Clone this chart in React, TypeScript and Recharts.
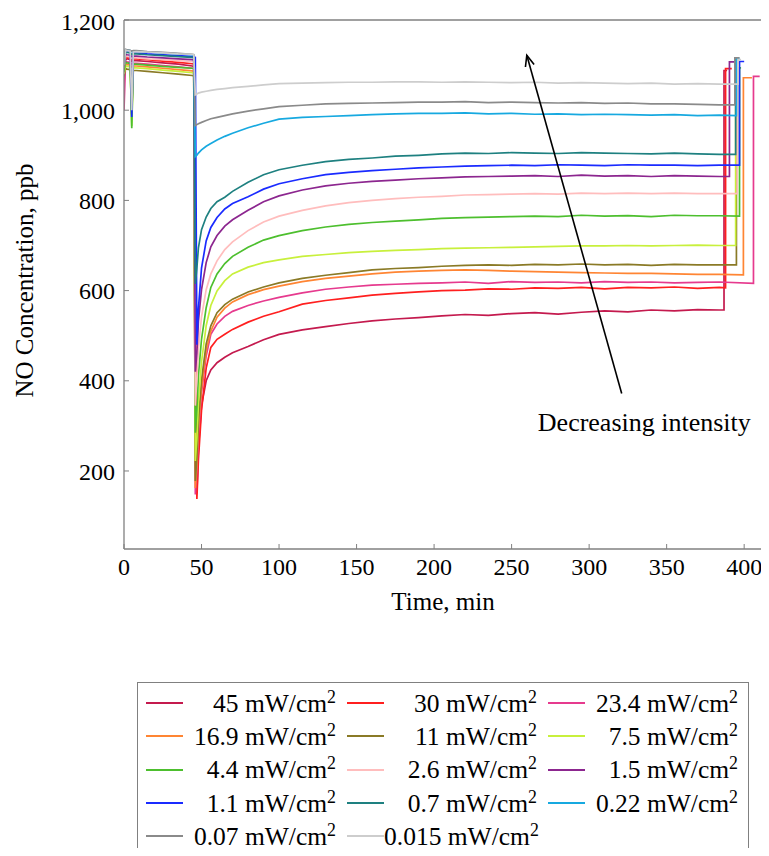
import React from 'react';
import { LineChart, Line, XAxis, YAxis, ReferenceLine, ReferenceDot, Legend } from 'recharts';

const TIME = [0, 1, 2, 4, 5, 6, 8, 15, 25, 35, 44, 45, 46, 47, 48, 50, 53, 56, 60, 65, 70, 80, 90, 100, 115, 130, 145, 160, 175, 190, 205, 220, 235, 250, 265, 280, 295, 310, 325, 340, 355, 370, 384];

const NO_45 = [1060, 1112, 1114, 1112, 1108, 1110, 1110, 1108, 1105, 1102, 1098, 1097, 420, 150, 250, 345, 400, 424, 440, 452, 462, 476, 491, 503, 513, 520, 527, 533, 537, 540, 544, 547, 545, 549, 551, 548, 552, 555, 553, 557, 555, 558, 557];
const NO_30 = [1090, 1118, 1117, 1115, 1112, 1114, 1114, 1112, 1109, 1106, 1103, 1102, 560, 138, 225, 335, 428, 474, 492, 503, 514, 530, 543, 553, 570, 578, 584, 590, 594, 597, 600, 601, 604, 603, 606, 605, 607, 604, 607, 606, 608, 605, 607];
const NO_23_4 = [1000, 1108, 1107, 1106, 1102, 1104, 1104, 1102, 1099, 1096, 1093, 1092, 148, 200, 280, 375, 455, 503, 526, 543, 554, 567, 577, 585, 595, 603, 608, 612, 614, 616, 617, 619, 616, 620, 618, 619, 617, 620, 618, 619, 617, 618, 619];
const NO_16_9 = [1085, 1102, 1101, 1100, 1096, 1098, 1098, 1096, 1093, 1090, 1087, 1086, 162, 215, 295, 385, 468, 510, 541, 561, 575, 591, 602, 610, 620, 627, 632, 637, 641, 643, 645, 646, 645, 643, 642, 641, 640, 639, 638, 638, 637, 636, 636];
const NO_11 = [1075, 1092, 1091, 1090, 990, 1088, 1088, 1086, 1083, 1080, 1077, 1076, 178, 232, 312, 402, 482, 522, 551, 569, 581, 597, 608, 617, 627, 634, 640, 646, 649, 651, 654, 656, 657, 656, 658, 657, 659, 657, 658, 656, 658, 657, 657];
const NO_7_5 = [1080, 1098, 1097, 1096, 965, 1094, 1094, 1092, 1089, 1086, 1083, 1082, 222, 272, 352, 442, 522, 567, 599, 622, 637, 652, 662, 668, 676, 680, 684, 687, 689, 691, 693, 694, 695, 696, 697, 698, 699, 699, 700, 699, 700, 701, 700];
const NO_4_4 = [1085, 1106, 1105, 1104, 960, 1102, 1102, 1100, 1097, 1095, 1093, 1092, 285, 335, 412, 492, 562, 607, 637, 660, 676, 696, 712, 722, 733, 741, 747, 751, 754, 757, 760, 762, 763, 764, 765, 764, 767, 765, 766, 764, 767, 766, 766];
const NO_2_6 = [1095, 1120, 1119, 1118, 1115, 1116, 1116, 1114, 1112, 1110, 1108, 1107, 345, 405, 472, 542, 602, 637, 666, 691, 708, 733, 752, 765, 778, 788, 795, 800, 804, 807, 809, 812, 813, 814, 815, 814, 816, 815, 816, 815, 816, 815, 815];
const NO_1_5 = [1100, 1124, 1123, 1122, 1119, 1120, 1120, 1118, 1116, 1114, 1112, 1111, 420, 462, 532, 602, 662, 697, 722, 743, 757, 778, 797, 810, 823, 832, 838, 842, 845, 848, 850, 852, 853, 854, 855, 853, 856, 854, 855, 853, 855, 854, 853];
const NO_1_1 = [1100, 1131, 1130, 1129, 985, 1127, 1127, 1125, 1123, 1121, 1119, 1118, 1117, 480, 560, 650, 710, 740, 762, 781, 793, 808, 825, 837, 848, 857, 862, 866, 869, 872, 874, 876, 877, 878, 877, 879, 878, 877, 879, 878, 878, 877, 878];
const NO_0_7 = [1100, 1129, 1128, 1127, 1124, 1125, 1125, 1123, 1121, 1119, 1117, 1116, 615, 650, 695, 735, 763, 782, 797, 807, 820, 840, 857, 868, 878, 886, 891, 894, 898, 900, 903, 905, 904, 906, 905, 904, 906, 905, 904, 903, 905, 903, 902];
const NO_0_22 = [1105, 1134, 1133, 1132, 1130, 1131, 1131, 1129, 1127, 1125, 1123, 1122, 897, 900, 905, 912, 920, 926, 934, 942, 949, 961, 971, 980, 984, 986, 988, 990, 992, 993, 993, 994, 992, 993, 991, 992, 990, 991, 990, 989, 990, 988, 989];
const NO_0_07 = [1095, 1135, 1134, 1133, 1131, 1132, 1132, 1130, 1128, 1126, 1124, 1123, 966, 968, 970, 973, 977, 981, 984, 988, 992, 998, 1003, 1008, 1011, 1014, 1015, 1016, 1017, 1018, 1018, 1019, 1017, 1018, 1017, 1016, 1017, 1015, 1016, 1014, 1014, 1013, 1012];
const NO_0_015 = [1100, 1133, 1132, 1131, 1000, 1129, 1130, 1129, 1127, 1125, 1124, 1123, 1034, 1036, 1038, 1040, 1042, 1044, 1046, 1048, 1050, 1053, 1056, 1059, 1060, 1061, 1062, 1062, 1063, 1063, 1062, 1063, 1062, 1061, 1062, 1060, 1061, 1060, 1059, 1060, 1058, 1059, 1058];

// end of each run: [time, value] points after the shared grid
const TAIL_45 = [[387, 557], [387, 1088], [389, 1088]];
const TAIL_30 = [[388, 606], [388, 1092], [392, 1092]];
const TAIL_23_4 = [[406, 616], [406, 1075], [410, 1075]];
const TAIL_16_9 = [[399.5, 635], [399.5, 1072], [405, 1072]];
const TAIL_11 = [[395, 657], [395, 1095], [396, 1095]];
const TAIL_7_5 = [[394.5, 700], [394.5, 1100], [396, 1100]];
const TAIL_4_4 = [[397, 765], [397, 1094], [398, 1094]];
const TAIL_2_6 = [[395.5, 815], [395.5, 1105], [397, 1105]];
const TAIL_1_5 = [[390.5, 853], [390.5, 1107], [394, 1107]];
const TAIL_1_1 = [[397, 878], [397, 1108], [400, 1108]];
const TAIL_0_7 = [[394.5, 902], [394.5, 1112], [396, 1112]];
const TAIL_0_22 = [[395, 988], [395, 1115], [397, 1115]];
const TAIL_0_07 = [[394, 1012], [394, 1116], [397, 1116]];
const TAIL_0_015 = [[396, 1058], [396, 1112], [398, 1112]];

const LABELS = ['45', '30', '23.4', '16.9', '11', '7.5', '4.4', '2.6', '1.5', '1.1', '0.7', '0.22', '0.07', '0.015'];
const COLORS = ['#C41A4E', '#FF1F1F', '#E63A8E', '#FF8533', '#8A7A26', '#C8F03C', '#4DBF2E', '#FFBDBD', '#8C268F', '#1A2BFF', '#1E8080', '#17A9E0', '#8A8A8A', '#CDCDCD'];
const VALUES = [NO_45, NO_30, NO_23_4, NO_16_9, NO_11, NO_7_5, NO_4_4, NO_2_6, NO_1_5, NO_1_1, NO_0_7, NO_0_22, NO_0_07, NO_0_015];
const TAILS = [TAIL_45, TAIL_30, TAIL_23_4, TAIL_16_9, TAIL_11, TAIL_7_5, TAIL_4_4, TAIL_2_6, TAIL_1_5, TAIL_1_1, TAIL_0_7, TAIL_0_22, TAIL_0_07, TAIL_0_015];

const X_TICKS = [0, 50, 100, 150, 200, 250, 300, 350, 400];
const Y_TICKS = [200, 400, 600, 800, 1000, 1200];
const X_DOMAIN = [0, 411.5];
const Y_DOMAIN = [27, 1200];

const ARROW = [{ x: 321, y: 372 }, { x: 259.8, y: 1122 }];
const NOTE = { x: 335.6, y: 308, text: 'Decreasing intensity' };

const FONT = '"Liberation Serif", "Times New Roman", serif';
const AXIS_GRAY = '#808080';

const series = LABELS.map((label, i) => ({
  label,
  color: COLORS[i],
  data: VALUES[i].map((v, j) => ({ t: TIME[j], v })).concat(TAILS[i].map(([t, v]) => ({ t, v }))),
}));

const renderLegend = () => (
  <div
    style={{
      boxSizing: 'border-box',
      width: 612,
      height: 185,
      border: `1px solid ${AXIS_GRAY}`,
      background: '#fff',
      padding: '3.5px 0 0 8px',
      fontFamily: FONT,
      fontSize: 25.5,
      color: '#000',
      display: 'grid',
      gridTemplateColumns: 'repeat(3, 201px)',
      gridAutoRows: '33.3px',
    }}
  >
    {series.map((s) => (
      <div key={s.label} style={{ display: 'flex', alignItems: 'center', height: 33.3 }}>
        <span style={{ display: 'inline-block', width: 37, height: 2, background: s.color, flex: 'none' }} />
        <span style={{ width: 153, textAlign: 'right', whiteSpace: 'nowrap', lineHeight: '33px' }}>
          {s.label} mW/cm
          <sup style={{ fontSize: '0.7em', lineHeight: 0, verticalAlign: '0.5em' }}>2</sup>
        </span>
      </div>
    ))}
  </div>
);

const renderArrow = (p: any) => {
  const { x1, y1, x2, y2 } = p;
  const ang = Math.atan2(y2 - y1, x2 - x1);
  const L = 11;
  const W = 4.5;
  const bx = x2 - L * Math.cos(ang);
  const by = y2 - L * Math.sin(ang);
  const nx = -Math.sin(ang);
  const ny = Math.cos(ang);
  return (
    <g>
      <line x1={x1} y1={y1} x2={x2} y2={y2} stroke="#000" strokeWidth={1.6} />
      <path
        d={`M${bx + nx * W},${by + ny * W} L${x2},${y2} L${bx - nx * W},${by - ny * W}`}
        fill="none"
        stroke="#000"
        strokeWidth={1.6}
      />
    </g>
  );
};

const renderNote = (p: any) => (
  <text x={p.cx} y={p.cy} dy="0.35em" textAnchor="middle" fontSize={26} fontFamily={FONT} fill="#000">
    {NOTE.text}
  </text>
);

const yLabel = (p: any) => {
  const vb = p.viewBox;
  const cx = vb.x + 25;
  const cy = vb.y + vb.height / 2 - 4;
  return (
    <text x={cx} y={cy} transform={`rotate(-90 ${cx} ${cy})`} textAnchor="middle" fontSize={25} fontFamily={FONT} fill="#000">
      NO Concentration, ppb
    </text>
  );
};

const xLabel = (p: any) => {
  const vb = p.viewBox;
  return (
    <text x={vb.x + vb.width / 2} y={vb.y + 61} textAnchor="middle" fontSize={25} fontFamily={FONT} fill="#000">
      Time, min
    </text>
  );
};

export default function App() {
  const tickStyle = { fontSize: 24, fill: '#000', fontFamily: FONT };
  return (
    <div style={{ width: 760, height: 848, overflow: 'hidden', marginBottom: -8, fontFamily: FONT }}>
      <style>{'body{overflow:hidden}'}</style>
      <LineChart width={760} height={870} margin={{ top: 0, right: 0, bottom: 54, left: 0 }}>
        <XAxis
          dataKey="t"
          type="number"
          domain={X_DOMAIN}
          ticks={X_TICKS}
          allowDataOverflow
          height={90}
          tickSize={-5}
          tickMargin={14}
          tick={tickStyle}
          tickLine={{ stroke: AXIS_GRAY }}
          axisLine={{ stroke: AXIS_GRAY, strokeWidth: 1.3 }}
          label={xLabel}
        />
        <XAxis
          xAxisId="top"
          orientation="top"
          dataKey="t"
          type="number"
          domain={X_DOMAIN}
          ticks={X_TICKS}
          allowDataOverflow
          height={12}
          tickSize={-5}
          tick={false}
          tickLine={{ stroke: AXIS_GRAY }}
          axisLine={{ stroke: AXIS_GRAY, strokeWidth: 1.3 }}
        />
        <YAxis
          type="number"
          domain={Y_DOMAIN}
          ticks={Y_TICKS}
          allowDataOverflow
          width={116}
          tickSize={-5}
          tickMargin={14}
          tick={tickStyle}
          tickFormatter={(v: number) => v.toLocaleString('en-US')}
          tickLine={{ stroke: AXIS_GRAY }}
          axisLine={{ stroke: AXIS_GRAY, strokeWidth: 1.3 }}
          label={yLabel}
        />
        <YAxis
          yAxisId="right"
          orientation="right"
          type="number"
          domain={Y_DOMAIN}
          ticks={Y_TICKS}
          allowDataOverflow
          width={6}
          tickSize={-5}
          tick={false}
          tickLine={{ stroke: AXIS_GRAY }}
          axisLine={{ stroke: AXIS_GRAY, strokeWidth: 1.3 }}
        />
        {series.map((s) => (
          <Line
            key={s.label}
            data={s.data}
            dataKey="v"
            name={s.label}
            type="linear"
            stroke={s.color}
            strokeWidth={1.7}
            dot={false}
            activeDot={false}
            isAnimationActive={false}
          />
        ))}
        <ReferenceLine segment={ARROW} shape={renderArrow} />
        <ReferenceDot x={NOTE.x} y={NOTE.y} r={0} shape={renderNote} />
        <Legend
          verticalAlign="bottom"
          content={renderLegend}
          wrapperStyle={{ top: 674, left: 129, bottom: 'auto', width: 612, height: 185 }}
        />
      </LineChart>
    </div>
  );
}
